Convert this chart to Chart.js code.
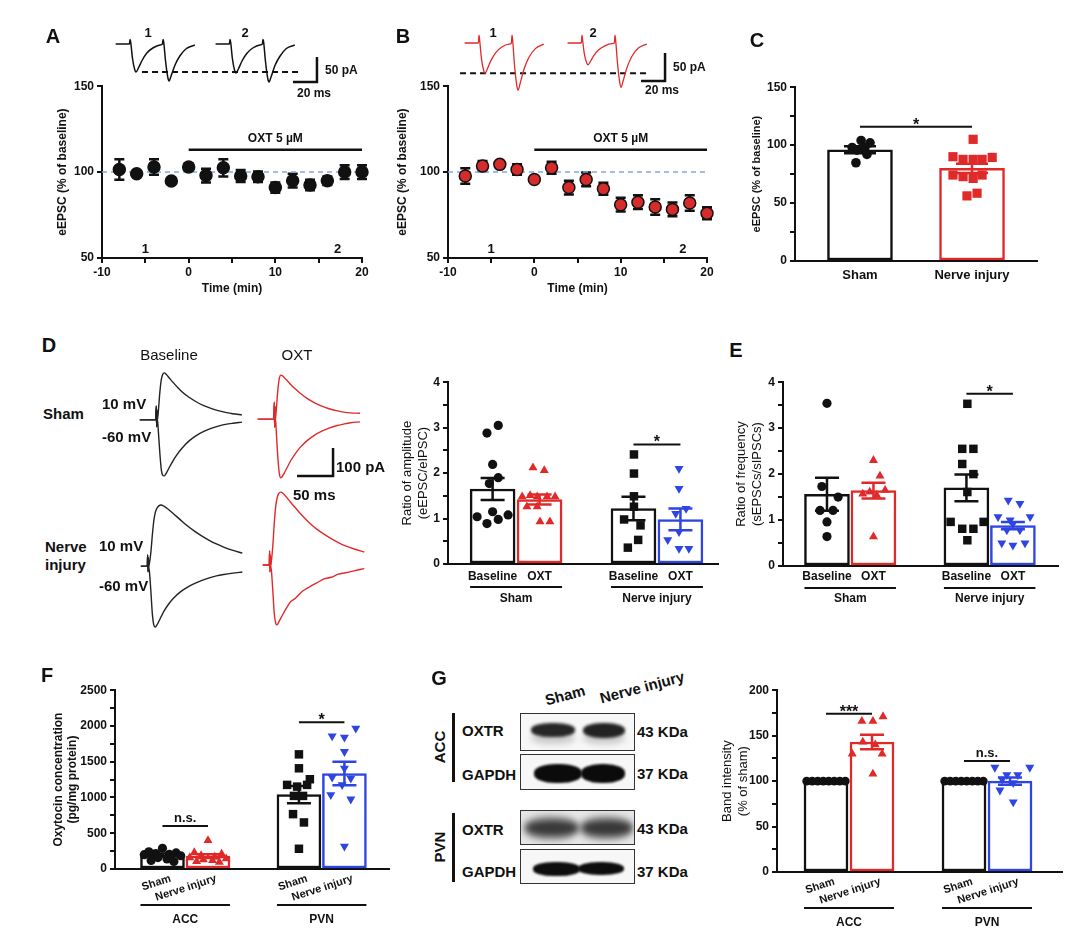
<!DOCTYPE html>
<html>
<head>
<meta charset="utf-8">
<script src="https://cdn.jsdelivr.net/npm/chart.js@4.4.1/dist/chart.umd.min.js"></script>
<style>
  body { margin: 0; width: 1080px; height: 939px; position: relative; overflow: hidden; background: #fff;
         font-family: "Liberation Sans", Arial, Helvetica, sans-serif; }
  canvas { position: absolute; }
  .t { position: absolute; font-weight: bold; color: #111; white-space: nowrap; line-height: 1; }
  .box { position: absolute; border: 1px solid #333; background: #f7f7f7; overflow: hidden; }
  .band { position: absolute; border-radius: 45%; }
  .vbar { position: absolute; background: #111; width: 3px; }
</style>
</head>
<body>
<script>
// ---- A / B : eEPSC time course ----
const timeMin = [-8, -6, -4, -2, 0, 2, 4, 6, 8, 10, 12, 14, 16, 18, 20];
const shamEpsc = [101.5, 99, 103, 94.8, 103, 98, 102.5, 97.7, 97.3, 91, 95, 92.5, 95, 100, 100];
const shamEpscSem = [6, 1, 4.5, 0, 2, 4, 5, 3.5, 3, 3, 4, 3, 2.5, 4, 4];
const nerveEpsc = [97.7, 103.5, 104.5, 101.5, 95.7, 102.5, 91, 95.7, 90.3, 81, 82.5, 79.7, 78.3, 82, 76];
const nerveEpscSem = [4.5, 3, 1, 3, 0, 3.5, 4, 4, 3.5, 4, 4, 4.5, 4, 4.5, 3.5];
const baselineLevel = 100;
const oxtPeriod = [0, 20];
const sampleTimes = [-5, 17.2];

// paired-pulse example traces (ms from first stimulus, pA)
const pairT = [-12, -0.5, 0, 0.6, 2, 4, 5, 7, 10, 14, 19, 25, 27, 27.5, 28.1, 29.5, 31.5, 32.5, 34.5, 37.5, 41.5, 47, 54];
const shamPair1 = [0, 0, 9, 3, -28, -52, -56, -48, -33, -18, -8, -2, 0, 9, 3, -32, -67, -74, -62, -42, -24, -9, -2];
const shamPair2 = [0, 0, 9, 3, -29, -54, -58, -50, -34, -19, -8, -2, 0, 9, 3, -33, -69, -76, -64, -43, -25, -9, -2];
const nervePair1 = [0, 0, 14, 4, -27, -50, -54, -46, -31, -17, -7, -2, 0, 14, 4, -38, -76, -84, -70, -47, -26, -10, -2];
const nervePair2 = [0, 0, 14, 4, -20, -36, -39, -33, -22, -12, -5, -1, 0, 14, 4, -34, -71, -79, -66, -44, -24, -9, -2];

// ---- C ----
const cLabels = ['Sham', 'Nerve injury'];
const cMean = [96, 80];
const cSem = [3, 4];
const cSham = [104, 102, 98, 98, 95.7, 92, 84.8];
const cShamJit = [0.01, 0.09, -0.07, 0.045, -0.027, 0.062, -0.036];
const cNerve = [105, 90, 87.7, 87.7, 87.7, 89.4, 74.2, 72.8, 71.3, 74.2, 56.2, 58.5];
const cNerveJit = [0.01, -0.17, -0.08, 0.01, 0.09, 0.18, -0.17, -0.08, 0.01, 0.09, -0.045, 0.045];

// ---- D : eEPSC / eIPSC traces (ms from stimulus, pA) ----
const tSham = [-24, -2, -1, -0.5, 0, 0.5, 1, 2, 4, 6, 8, 10, 13, 17, 22, 28, 35, 45, 55, 65, 75, 85, 95, 105, 118];
const shamBaseOut = [0, 0, 50, -25, 35, 0, 8, 35, 100, 145, 163, 168, 162, 150, 135, 118, 100, 80, 64, 51, 41, 33, 27, 22, 18];
const shamBaseIn = [0, 0, 50, -25, 35, 0, -8, -45, -120, -178, -198, -200, -190, -170, -147, -123, -100, -74, -55, -41, -30, -22, -16, -12, -8];
const shamOxtOut = [0, 0, 60, -30, 45, 0, 10, 40, 105, 145, 157, 155, 148, 137, 123, 108, 92, 73, 58, 46, 37, 30, 25, 22, 21];
const shamOxtIn = [0, 0, 60, -30, 45, 0, -10, -55, -140, -195, -210, -205, -192, -172, -148, -124, -101, -76, -57, -43, -32, -24, -18, -13, -10];
const tNerve = [-10, -1, -0.5, 0, 0.5, 1, 2, 4, 6, 8, 10, 12, 15, 18, 22, 28, 35, 45, 55, 65, 75, 85, 95, 105, 118, 131];
const nerveBaseOut = [0, 0, 40, -20, 30, 0, 10, 50, 110, 160, 190, 205, 215, 218, 214, 203, 188, 165, 143, 124, 107, 92, 79, 68, 56, 46];
const nerveBaseIn = [0, 0, 40, -20, 30, 0, -20, -90, -170, -210, -218, -212, -198, -182, -162, -138, -116, -92, -75, -62, -51, -42, -35, -30, -25, -21];
const nerveOxtOut = [0, 0, 50, -25, 35, 0, 15, 70, 150, 210, 240, 255, 260, 256, 245, 226, 205, 176, 150, 128, 110, 94, 80, 68, 56, 46];
const nerveOxtIn = [0, 0, 50, -25, 35, 0, -20, -95, -175, -208, -214, -205, -190, -176, -158, -133, -120, -94, -78, -64, -50, -44, -33, -28, -20, -13];

// ---- D : amplitude ratio ----
const dLabels = ['Baseline', 'OXT', 'Baseline', 'OXT'];
const dMean = [1.65, 1.42, 1.22, 0.98];
const dSem = [0.24, 0.11, 0.26, 0.24];
const dShamBase = [3.05, 2.88, 2.19, 1.9, 1.77, 1.15, 1.08, 1.04, 0.98, 0.89];
const dShamBaseJit = [0.12, -0.12, 0, 0.12, -0.07, 0, 0.33, -0.33, 0.12, -0.12];
const dShamOxt = [2.12, 2.06, 1.48, 1.51, 1.48, 1.48, 1.48, 1.26, 1.26, 0.93, 0.93];
const dShamOxtJit = [-0.14, 0.1, -0.37, -0.2, -0.05, 0.16, 0.33, -0.27, -0.05, 0.01, 0.22];
const dNerveBase = [2.41, 1.99, 1.49, 1.26, 0.98, 0.85, 0.53, 0.36];
const dNerveBaseJit = [0.01, 0.01, 0.01, 0.01, -0.2, 0.15, 0.1, -0.12];
const dNerveOxt = [2.1, 1.66, 1.22, 1.11, 0.71, 0.53, 0.34, 0.34];
const dNerveOxtJit = [-0.03, -0.03, 0.12, -0.1, -0.03, -0.27, -0.03, 0.18];

// ---- E : frequency ratio ----
const eMean = [1.56, 1.64, 1.70, 0.88];
const eSem = [0.36, 0.17, 0.29, 0.08];
const eShamBase = [3.54, 1.73, 1.5, 1.21, 1.21, 0.96, 0.64];
const eShamBaseJit = [0, -0.11, 0.24, -0.15, 0.13, 0, 0];
const eShamOxt = [2.3, 1.96, 1.57, 1.61, 1.65, 1.54, 0.64];
const eShamOxtJit = [0, 0.14, -0.23, -0.08, 0.25, 0.07, 0];
const eNerveBase = [3.53, 2.55, 2.55, 2.22, 2.0, 1.61, 0.96, 0.96, 0.81, 0.81, 0.56];
const eNerveBaseJit = [0.02, -0.09, 0.15, -0.09, 0.15, 0.02, -0.34, 0.37, -0.09, 0.15, 0.02];
const eNerveOxt = [1.43, 1.36, 1.07, 1.07, 0.92, 0.78, 0.78, 0.5, 0.45, 0.5, 1.0];
const eNerveOxtJit = [-0.1, 0.15, -0.32, 0.37, 0, -0.13, 0.15, -0.24, 0, 0.26, -0.06];

// ---- F : oxytocin concentration ----
const regionLabels = ['Sham', 'Nerve injury', 'Sham', 'Nerve injury'];
const fMean = [195, 180, 1040, 1335];
const fSem = [20, 25, 120, 165];
const fAccSham = [290, 240, 225, 215, 205, 200, 185, 160, 140, 120, 105];
const fAccNerve = [400, 230, 210, 190, 170, 160, 145, 130, 120, 105, 95];
const fAccJit = [0, -0.3, 0.3, -0.15, 0.15, -0.4, 0.4, -0.1, 0.1, -0.25, 0.25];
const fPvnSham = [1603, 1408, 1255, 1176, 1152, 1176, 1022, 1022, 767, 651, 283];
const fPvnShamJit = [0, 0, 0.24, -0.26, -0.04, 0.18, -0.11, 0.09, -0.13, 0.11, 0];
const fPvnNerve = [1966, 1859, 1840, 1640, 1408, 1283, 1269, 1176, 1036, 976, 316];
const fPvnNerveJit = [0.25, -0.27, 0, 0, 0, -0.27, 0.14, -0.05, -0.3, 0.14, 0];

// ---- G : band intensity ----
const gMean = [100, 143, 100, 100];
const gSem = [0, 8, 0, 4];
const gSham = [100, 100, 100, 100, 100, 100, 100, 100];
const gShamJit = [-0.42, -0.3, -0.18, -0.06, 0.06, 0.18, 0.3, 0.42];
const gAccNerve = [166, 166, 171, 143, 140, 130, 130, 108];
const gAccNerveJit = [-0.22, 0.02, 0.24, -0.2, 0.07, -0.43, 0.22, 0.02];
const gPvnNerve = [115, 115, 107, 107, 102, 98, 90, 77];
const gPvnNerveJit = [-0.33, 0.43, -0.07, 0.17, -0.17, 0.07, -0.22, 0.07];

// ------------------------------------------------------------------
const FONT = '"Liberation Sans", Arial, Helvetica, sans-serif';
const INK = '#111';
const RED = '#e02a2a';
const BLUE = '#2f45e2';
const DASH_BLUE = '#86a6e2';

Chart.defaults.font.family = FONT;
Chart.defaults.color = INK;
Chart.defaults.animation = false;
Chart.defaults.plugins.legend.display = false;
Chart.defaults.plugins.tooltip.enabled = false;

function canvasAt(left, top, w, h) {
  const c = document.createElement('canvas');
  c.width = w; c.height = h;
  c.style.left = left + 'px'; c.style.top = top + 'px';
  c.style.width = w + 'px'; c.style.height = h + 'px';
  document.body.appendChild(c);
  return c;
}

// canvas whose chart area lands exactly on `a` (page px); m = room for axes
function framed(a, m) {
  return canvasAt(a.l - m.l, a.t - m.t, a.r - a.l + m.l + m.r, a.b - a.t + m.t + m.b);
}

function label(text, x, y, size, opt = {}) {
  const d = document.createElement('div');
  d.className = 't';
  d.textContent = text;
  d.style.fontSize = size + 'px';
  d.style.left = x + 'px';
  d.style.top = y + 'px';
  const ax = opt.left ? '0' : '-50%';
  d.style.transform = `translate(${ax}, -50%)` + (opt.rot ? ` rotate(${opt.rot}deg)` : '');
  if (opt.weight) d.style.fontWeight = opt.weight;
  document.body.appendChild(d);
}

function yAxis(min, max, step, labelStep, title, tSize, tWeight, ml) {
  return {
    type: 'linear', min, max,
    afterFit: s => { s.width = ml; },
    ticks: {
      stepSize: step, autoSkip: false, padding: 3, color: INK,
      font: { size: 12, weight: 'bold' },
      callback: v => (Math.abs(v / labelStep - Math.round(v / labelStep)) < 1e-6 ? v : '')
    },
    grid: { drawOnChartArea: false, drawTicks: true, tickLength: 5, color: INK, lineWidth: 2 },
    border: { color: INK, width: 2 },
    title: { display: true, text: title, color: INK, padding: 0, font: { size: tSize, weight: tWeight } }
  };
}

function catAxis(min, max, pos, labels, mb, rot, shift, pad, size) {
  return {
    type: 'linear', min, max, offset: false,
    afterFit: s => { s.height = mb; },
    afterBuildTicks: s => { s.ticks = pos.map(v => ({ value: v + shift })); },
    ticks: {
      autoSkip: false, minRotation: rot, maxRotation: rot, padding: pad, color: INK,
      font: { size, weight: 'bold' },
      callback: (v, i) => labels[i]
    },
    grid: { display: false, drawTicks: false, offset: false },
    border: { color: INK, width: 2 }
  };
}

// error bars, significance bars and group underlines for bar panels
const barExtras = {
  id: 'barExtras',
  afterDatasetsDraw(chart, args, o) {
    const { ctx, scales: { x, y } } = chart;
    ctx.save();
    ctx.lineCap = 'butt';
    o.bars.forEach(b => {
      if (!b.sem) return;
      const px = x.getPixelForValue(b.x);
      const y1 = y.getPixelForValue(b.mean - b.sem);
      const y2 = y.getPixelForValue(b.mean + b.sem);
      ctx.strokeStyle = b.color;
      ctx.lineWidth = 2.5;
      ctx.beginPath();
      ctx.moveTo(px, y1); ctx.lineTo(px, y2);
      ctx.moveTo(px - o.cap, y1); ctx.lineTo(px + o.cap, y1);
      ctx.moveTo(px - o.cap, y2); ctx.lineTo(px + o.cap, y2);
      ctx.stroke();
    });
    ctx.strokeStyle = INK;
    ctx.fillStyle = INK;
    ctx.textAlign = 'center';
    (o.sigs || []).forEach(s => {
      const x1 = x.getPixelForValue(s.from), x2 = x.getPixelForValue(s.to);
      const py = y.getPixelForValue(s.y);
      ctx.lineWidth = 2;
      ctx.beginPath(); ctx.moveTo(x1, py); ctx.lineTo(x2, py); ctx.stroke();
      const star = s.text.indexOf('*') >= 0;
      ctx.font = `bold ${star ? 16 : 13}px ${FONT}`;
      ctx.textBaseline = 'alphabetic';
      ctx.fillText(s.text, (x1 + x2) / 2, star ? py + 3 : py - 4);
    });
    const axisY = y.getPixelForValue(y.min);
    (o.groups || []).forEach(g => {
      const x1 = x.getPixelForValue(g.from) - o.barW / 2, x2 = x.getPixelForValue(g.to) + o.barW / 2;
      ctx.lineWidth = 2;
      ctx.beginPath(); ctx.moveTo(x1, axisY + o.lineOff); ctx.lineTo(x2, axisY + o.lineOff); ctx.stroke();
      ctx.font = `bold 12px ${FONT}`;
      ctx.textBaseline = 'middle';
      ctx.fillText(g.label, (x1 + x2) / 2, axisY + o.labelOff);
    });
    ctx.restore();
  }
};

function barPanel(o) {
  const c = framed(o.area, o.m);
  const datasets = o.bars.map(b => ({
    type: 'scatter',
    data: b.pts.map((v, i) => ({ x: b.x + b.jit[i], y: v })),
    pointStyle: b.marker, rotation: b.rot || 0, pointRadius: b.r,
    backgroundColor: b.color, borderWidth: 0, order: 0, clip: false
  }));
  datasets.push({
    type: 'bar',
    data: o.bars.map(b => ({ x: b.x, y: b.mean })),
    backgroundColor: '#fff', borderColor: o.bars.map(b => b.color),
    borderWidth: 2.5, borderSkipped: false, barThickness: o.barW, order: 1
  });
  new Chart(c, {
    type: 'bar',
    data: { datasets },
    options: {
      responsive: false,
      layout: { autoPadding: false, padding: { top: o.m.t, right: o.m.r, left: 0, bottom: 0 } },
      scales: {
        x: catAxis(o.xMin, o.xMax, o.bars.map(b => b.x), o.labels, o.m.b, o.rot || 0, o.shift || 0, o.pad, o.labelSize || 12),
        y: yAxis(o.yMin, o.yMax, o.yStep, o.yLabelStep, o.yTitle, o.tSize, o.tWeight, o.m.l)
      },
      plugins: { barExtras: { bars: o.bars, cap: o.cap, sigs: o.sigs, groups: o.groups, barW: o.barW, lineOff: o.lineOff, labelOff: o.labelOff } }
    },
    plugins: [barExtras]
  });
}

// error bars, OXT application bar and sample marks for time-course panels
const timeExtras = {
  id: 'timeExtras',
  beforeDatasetsDraw(chart, args, o) {
    const { ctx, scales: { x, y } } = chart;
    ctx.save();
    ctx.strokeStyle = INK; ctx.lineWidth = 2.5;
    o.t.forEach((t, i) => {
      if (!o.sem[i]) return;
      const px = x.getPixelForValue(t);
      const y1 = y.getPixelForValue(o.v[i] - o.sem[i]), y2 = y.getPixelForValue(o.v[i] + o.sem[i]);
      ctx.beginPath();
      ctx.moveTo(px, y1); ctx.lineTo(px, y2);
      ctx.moveTo(px - 5, y1); ctx.lineTo(px + 5, y1);
      ctx.moveTo(px - 5, y2); ctx.lineTo(px + 5, y2);
      ctx.stroke();
    });
    ctx.restore();
  },
  afterDatasetsDraw(chart, args, o) {
    const { ctx, scales: { x, y } } = chart;
    ctx.save();
    const x1 = x.getPixelForValue(oxtPeriod[0]), x2 = x.getPixelForValue(oxtPeriod[1]);
    ctx.strokeStyle = INK; ctx.lineWidth = 2.5;
    ctx.beginPath(); ctx.moveTo(x1, y.getPixelForValue(113)); ctx.lineTo(x2, y.getPixelForValue(113)); ctx.stroke();
    ctx.fillStyle = INK;
    ctx.textAlign = 'center'; ctx.textBaseline = 'middle';
    ctx.font = `bold 12px ${FONT}`;
    ctx.fillText('OXT 5 \u00b5M', (x1 + x2) / 2, y.getPixelForValue(119.5));
    ctx.font = `bold 13px ${FONT}`;
    sampleTimes.forEach((t, i) => ctx.fillText(String(i + 1), x.getPixelForValue(t), y.getPixelForValue(55)));
    ctx.restore();
  }
};

function timePanel(o) {
  const c = framed(o.area, o.m);
  new Chart(c, {
    type: 'scatter',
    data: {
      datasets: [
        { data: timeMin.map((t, i) => ({ x: t, y: o.v[i] })), pointRadius: 6, clip: false,
          pointBackgroundColor: o.fill, pointBorderColor: INK, pointBorderWidth: 1.5, order: 0 },
        { data: [{ x: -10, y: baselineLevel }, { x: 20, y: baselineLevel }], showLine: true,
          borderColor: DASH_BLUE, borderDash: [5, 4], borderWidth: 1.5, pointRadius: 0, order: 1 }
      ]
    },
    options: {
      responsive: false,
      layout: { autoPadding: false, padding: { top: o.m.t, right: o.m.r, left: 0, bottom: 0 } },
      scales: {
        x: {
          type: 'linear', min: -10, max: 20,
          afterFit: s => { s.height = o.m.b; },
          ticks: { stepSize: 5, autoSkip: false, padding: 2, color: INK, font: { size: 12, weight: 'bold' },
                   callback: v => (v % 10 === 0 ? v : '') },
          grid: { drawOnChartArea: false, tickLength: 5, color: INK, lineWidth: 2 },
          border: { color: INK, width: 2 },
          title: { display: true, text: 'Time (min)', color: INK, padding: { top: 0, bottom: 2 }, font: { size: 12, weight: 'bold' } }
        },
        y: yAxis(50, 150, 50, 50, 'eEPSC (% of baseline)', 12, 'bold', o.m.l)
      },
      plugins: { timeExtras: { t: timeMin, v: o.v, sem: o.sem } }
    },
    plugins: [timeExtras]
  });
}

function traceSet(t, v, t0, v0, color, width) {
  return { data: t.map((tt, i) => ({ x: t0 + tt, y: v0 + v[i] })), showLine: true, borderColor: color,
           borderWidth: width || 1.4, pointRadius: 0, cubicInterpolationMode: 'monotone' };
}
function scaleBarSet(cx, cy, ms, pA) {
  return { data: [{ x: cx - ms, y: cy }, { x: cx, y: cy }, { x: cx, y: cy + pA }], showLine: true,
           borderColor: INK, borderWidth: 2.5, pointRadius: 0, borderJoinStyle: 'miter' };
}
function dashedSet(x1, x2, yv) {
  return { data: [{ x: x1, y: yv }, { x: x2, y: yv }], showLine: true, borderColor: INK,
           borderDash: [6, 4], borderWidth: 1.8, pointRadius: 0 };
}
function tracePanel(left, top, w, h, xMax, yMin, yMax, datasets) {
  const c = canvasAt(left, top, w, h);
  new Chart(c, {
    type: 'scatter',
    data: { datasets },
    options: {
      responsive: false,
      layout: { autoPadding: false, padding: 0 },
      scales: { x: { type: 'linear', display: false, min: 0, max: xMax },
                y: { type: 'linear', display: false, min: yMin, max: yMax } }
    }
  });
}

// ---------------- A ----------------
timePanel({ area: { l: 102, t: 86, r: 362, b: 258 }, m: { l: 47, t: 10, r: 15, b: 40 },
            v: shamEpsc, sem: shamEpscSem, fill: INK });
const aPeak = Math.min(...shamPair1.slice(0, 12));
tracePanel(110, 28, 215, 62, 179.2, -92, 32, [
  traceSet(pairT, shamPair1, 16.7, 0, INK, 1.5),
  traceSet(pairT, shamPair2, 100, 0, INK, 1.5),
  dashedSet(26.7, 158, aPeak),
  scaleBarSet(172.5, -76, 20, 50)
]);

// ---------------- B ----------------
timePanel({ area: { l: 448, t: 86, r: 707, b: 258 }, m: { l: 53, t: 10, r: 15, b: 40 },
            v: nerveEpsc, sem: nerveEpscSem, fill: '#d62b2b' });
const bPeak = Math.min(...nervePair1.slice(0, 12));
tracePanel(455, 28, 220, 70, 183.3, -98.2, 26.8, [
  traceSet(pairT, nervePair1, 20, 0, RED, 1.3),
  traceSet(pairT, nervePair2, 105.8, 0, RED, 1.3),
  dashedSet(4.2, 160, bPeak),
  scaleBarSet(175, -67.8, 20, 50)
]);

// ---------------- C ----------------
barPanel({
  area: { l: 795, t: 87, r: 1037, b: 261 }, m: { l: 45, t: 10, r: 8, b: 30 },
  xMin: 0.42, xMax: 2.58, yMin: 0, yMax: 150, yStep: 25, yLabelStep: 50,
  yTitle: 'eEPSC (% of baseline)', tSize: 11, tWeight: 'bold',
  labels: cLabels, pad: 7, labelSize: 13, barW: 65, cap: 16,
  bars: [
    { x: 1, mean: cMean[0], sem: cSem[0], color: INK, pts: cSham, jit: cShamJit, marker: 'circle', r: 4.8 },
    { x: 2, mean: cMean[1], sem: cSem[1], color: RED, pts: cNerve, jit: cNerveJit, marker: 'rect', r: 6.5 }
  ],
  sigs: [{ from: 1, to: 2, y: 115.8, text: '*' }]
});

// ---------------- D ----------------
tracePanel(130, 360, 250, 280, 347.2, -1000, 0, [
  traceSet(tSham, shamBaseOut, 37.5, -214, '#222'),
  traceSet(tSham, shamBaseIn, 37.5, -214, '#222'),
  traceSet(tSham, shamOxtOut, 201.4, -211, RED),
  traceSet(tSham, shamOxtIn, 201.4, -211, RED),
  traceSet(tNerve, nerveBaseOut, 25, -736, '#222'),
  traceSet(tNerve, nerveBaseIn, 25, -736, '#222'),
  traceSet(tNerve, nerveOxtOut, 194.4, -732, RED),
  traceSet(tNerve, nerveOxtIn, 194.4, -732, RED),
  scaleBarSet(282, -414, 50, 100)
]);

barPanel({
  area: { l: 448, t: 382, r: 718, b: 564 }, m: { l: 48, t: 10, r: 5, b: 45 },
  xMin: 0.05, xMax: 5.8, yMin: 0, yMax: 4, yStep: 0.5, yLabelStep: 1,
  yTitle: ['Ratio of amplitude', '(eEPSC/eIPSC)'], tSize: 13, tWeight: 'normal',
  labels: dLabels, pad: 5, barW: 45, cap: 12,
  bars: [
    { x: 1, mean: dMean[0], sem: dSem[0], color: INK, pts: dShamBase, jit: dShamBaseJit, marker: 'circle', r: 4.6 },
    { x: 2, mean: dMean[1], sem: dSem[1], color: RED, pts: dShamOxt, jit: dShamOxtJit, marker: 'triangle', r: 5.2 },
    { x: 4, mean: dMean[2], sem: dSem[2], color: INK, pts: dNerveBase, jit: dNerveBaseJit, marker: 'rect', r: 6 },
    { x: 5, mean: dMean[3], sem: dSem[3], color: BLUE, pts: dNerveOxt, jit: dNerveOxtJit, marker: 'triangle', rot: 180, r: 5.2 }
  ],
  sigs: [{ from: 4, to: 5, y: 2.63, text: '*' }],
  groups: [{ from: 1, to: 2, label: 'Sham' }, { from: 4, to: 5, label: 'Nerve injury' }],
  lineOff: 23, labelOff: 35
});

// ---------------- E ----------------
barPanel({
  area: { l: 783, t: 382, r: 1058, b: 566 }, m: { l: 49, t: 10, r: 5, b: 45 },
  xMin: 0.054, xMax: 5.97, yMin: 0, yMax: 4, yStep: 0.5, yLabelStep: 1,
  yTitle: ['Ratio of frequency', '(sEPSCs/sIPSCs)'], tSize: 13, tWeight: 'normal',
  labels: dLabels, pad: 3, barW: 45, cap: 12,
  bars: [
    { x: 1, mean: eMean[0], sem: eSem[0], color: INK, pts: eShamBase, jit: eShamBaseJit, marker: 'circle', r: 4.6 },
    { x: 2, mean: eMean[1], sem: eSem[1], color: RED, pts: eShamOxt, jit: eShamOxtJit, marker: 'triangle', r: 5.2 },
    { x: 4, mean: eMean[2], sem: eSem[2], color: INK, pts: eNerveBase, jit: eNerveBaseJit, marker: 'rect', r: 6 },
    { x: 5, mean: eMean[3], sem: eSem[3], color: BLUE, pts: eNerveOxt, jit: eNerveOxtJit, marker: 'triangle', rot: 180, r: 5.2 }
  ],
  sigs: [{ from: 4, to: 5, y: 3.75, text: '*' }],
  groups: [{ from: 1, to: 2, label: 'Sham' }, { from: 4, to: 5, label: 'Nerve injury' }],
  lineOff: 22, labelOff: 33
});

// ---------------- F ----------------
barPanel({
  area: { l: 115, t: 690, r: 389, b: 869 }, m: { l: 64, t: 10, r: 5, b: 60 },
  xMin: -0.044, xMax: 5.98, yMin: 0, yMax: 2500, yStep: 250, yLabelStep: 500,
  yTitle: ['Oxytocin concentration', '(pg/mg protein)'], tSize: 12, tWeight: 'bold',
  labels: regionLabels, rot: 18, shift: 0.18, pad: 3, labelSize: 11, barW: 44, cap: 12,
  bars: [
    { x: 1, mean: fMean[0], sem: fSem[0], color: INK, pts: fAccSham, jit: fAccJit, marker: 'circle', r: 4.6 },
    { x: 2, mean: fMean[1], sem: fSem[1], color: RED, pts: fAccNerve, jit: fAccJit, marker: 'triangle', r: 5.2 },
    { x: 4, mean: fMean[2], sem: fSem[2], color: INK, pts: fPvnSham, jit: fPvnShamJit, marker: 'rect', r: 6 },
    { x: 5, mean: fMean[3], sem: fSem[3], color: BLUE, pts: fPvnNerve, jit: fPvnNerveJit, marker: 'triangle', rot: 180, r: 5.2 }
  ],
  sigs: [{ from: 1, to: 2, y: 600, text: 'n.s.' }, { from: 4, to: 5, y: 2053, text: '*' }],
  groups: [{ from: 1, to: 2, label: 'ACC' }, { from: 4, to: 5, label: 'PVN' }],
  lineOff: 36, labelOff: 51
});

// ---------------- G ----------------
barPanel({
  area: { l: 777, t: 690, r: 1062, b: 872 }, m: { l: 57, t: 10, r: 5, b: 60 },
  xMin: -0.065, xMax: 6.13, yMin: 0, yMax: 200, yStep: 25, yLabelStep: 50,
  yTitle: ['Band intensity', '(% of sham)'], tSize: 13, tWeight: 'normal',
  labels: regionLabels, rot: 18, shift: 0.18, pad: 3, labelSize: 11, barW: 44, cap: 12,
  bars: [
    { x: 1, mean: gMean[0], sem: gSem[0], color: INK, pts: gSham, jit: gShamJit, marker: 'circle', r: 4.4 },
    { x: 2, mean: gMean[1], sem: gSem[1], color: RED, pts: gAccNerve, jit: gAccNerveJit, marker: 'triangle', r: 5.2 },
    { x: 4, mean: gMean[2], sem: gSem[2], color: INK, pts: gSham, jit: gShamJit, marker: 'circle', r: 4.4 },
    { x: 5, mean: gMean[3], sem: gSem[3], color: BLUE, pts: gPvnNerve, jit: gPvnNerveJit, marker: 'triangle', rot: 180, r: 5.2 }
  ],
  sigs: [{ from: 1, to: 2, y: 174, text: '***' }, { from: 4, to: 5, y: 122, text: 'n.s.' }],
  groups: [{ from: 1, to: 2, label: 'ACC' }, { from: 4, to: 5, label: 'PVN' }],
  lineOff: 36, labelOff: 51
});

// ---------------- western blot (G) ----------------
function blot(l, t, w, h, bands, bg) {
  const b = document.createElement('div');
  b.className = 'box';
  Object.assign(b.style, { left: l + 'px', top: t + 'px', width: w + 'px', height: h + 'px' });
  if (bg) b.style.background = bg;
  bands.forEach(s => {
    const d = document.createElement('div');
    d.className = 'band';
    Object.assign(d.style, { left: s[0] + 'px', top: s[1] + 'px', width: s[2] + 'px', height: s[3] + 'px',
      background: s[4], filter: `blur(${s[5]}px)` });
    b.appendChild(d);
  });
  document.body.appendChild(b);
}
blot(520, 713, 113, 36, [[10, 18, 44, 12, 'rgba(0,0,0,0.18)', 3], [62, 18, 42, 12, 'rgba(0,0,0,0.18)', 3],
                         [10, 9, 44, 14, '#262626', 1.5], [62, 9, 42, 15, '#222', 1.5]]);
blot(520, 754, 113, 34, [[13, 9, 48, 19, '#0b0b0b', 1.2], [60, 9, 44, 19, '#0b0b0b', 1.2]]);
blot(520, 810, 113, 33, [[2, 4, 56, 26, 'rgba(0,0,0,0.25)', 3], [58, 4, 54, 26, 'rgba(0,0,0,0.25)', 3],
                         [5, 9, 52, 16, '#3a3a3a', 3], [61, 9, 50, 16, '#383838', 3]], '#e6e6e6');
blot(520, 849, 113, 33, [[12, 12, 47, 14, '#0d0d0d', 1.2], [57, 12, 46, 13, '#0d0d0d', 1.2]]);

[[713, 69], [813, 69]].forEach(([top, h]) => {
  const v = document.createElement('div');
  v.className = 'vbar';
  v.style.left = '452px'; v.style.top = top + 'px'; v.style.height = h + 'px';
  document.body.appendChild(v);
});

// ---------------- text ----------------
[['A', 53, 35.5], ['B', 403, 35.5], ['C', 757, 40], ['D', 49, 344.5], ['E', 736, 349.5], ['F', 47, 674.5], ['G', 439, 677.5]]
  .forEach(([s, x, y]) => label(s, x, y, 20));

label('1', 148, 32, 13); label('2', 245, 32, 13);
label('50 pA', 325, 70, 12, { left: true }); label('20 ms', 297, 93, 12, { left: true });
label('1', 493, 32, 13); label('2', 593, 32, 13);
label('50 pA', 673, 67, 12, { left: true }); label('20 ms', 645, 90, 12, { left: true });

label('Baseline', 169, 354, 15, { weight: 'normal' });
label('OXT', 297, 354, 15, { weight: 'normal' });
label('Sham', 43, 413, 15, { left: true });
label('10 mV', 102, 403, 15, { left: true });
label('-60 mV', 102, 436, 15, { left: true });
label('Nerve', 45, 546, 15, { left: true });
label('injury', 45, 564, 15, { left: true });
label('10 mV', 99, 545, 15, { left: true });
label('-60 mV', 99, 585, 15, { left: true });
label('100 pA', 336, 466, 15, { left: true });
label('50 ms', 293, 494, 15, { left: true });

label('Sham', 565, 695, 15, { rot: -15 });
label('Nerve injury', 642, 687, 15, { rot: -15 });
label('OXTR', 462, 730, 15, { left: true });
label('GAPDH', 462, 774, 15, { left: true });
label('OXTR', 462, 829, 15, { left: true });
label('GAPDH', 462, 871, 15, { left: true });
label('43 KDa', 637, 731, 15, { left: true });
label('37 KDa', 637, 773, 15, { left: true });
label('43 KDa', 637, 828, 15, { left: true });
label('37 KDa', 637, 871, 15, { left: true });
label('ACC', 439, 747, 15, { rot: -90 });
label('PVN', 439, 847, 15, { rot: -90 });
</script>
</body>
</html>
